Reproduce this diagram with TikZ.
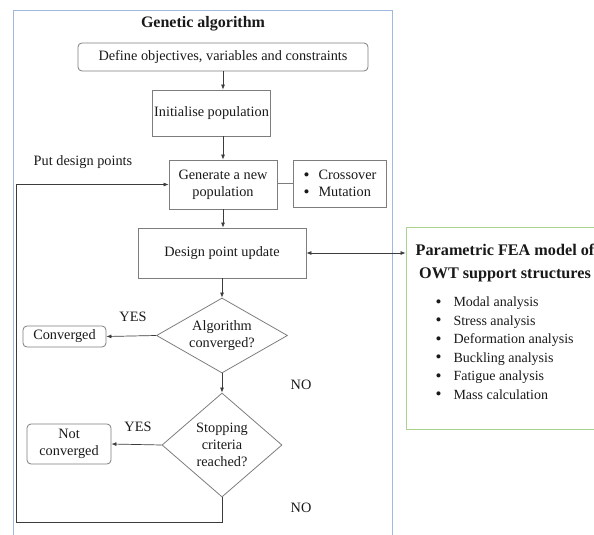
\documentclass[tikz,border=0pt]{standalone}
\usepackage{fontspec}
\setmainfont{Liberation Serif}
\usetikzlibrary{shapes.geometric,arrows.meta}

\definecolor{boxline}{RGB}{125,125,125}
\definecolor{arrline}{RGB}{60,60,60}
\definecolor{frameblue}{RGB}{160,185,225}
\definecolor{framegreen}{RGB}{170,210,145}
\definecolor{inktext}{RGB}{25,25,25}

\newcommand{\blt}[1]{\makebox[#1][l]{\raisebox{-0.1ex}{\fontsize{17}{0}\selectfont\textbullet}}}

\tikzset{
  plainbox/.style={draw=boxline, line width=0.8pt, text=inktext, align=center,
    font=\fontsize{14.3}{17}\selectfont, inner sep=2pt},
  roundbox/.style={plainbox, rounded corners=4pt},
  decision/.style={plainbox, diamond, inner sep=0pt},
  flow/.style={draw=arrline, line width=0.7pt, -{Latex[length=5pt,width=4pt]}},
  label/.style={text=inktext, font=\fontsize{14.3}{17}\selectfont},
}

\begin{document}
\begin{tikzpicture}[x=1pt,y=-1pt]
\useasboundingbox (0,0) rectangle (594,535);
\clip (0,0) rectangle (594,535);

% outer frames
\draw[frameblue, line width=0.8pt] (13,540) -- (13,10) -- (392,10) -- (392,540);
\node[draw=framegreen, line width=0.8pt, minimum width=200pt, minimum height=202pt,
  inner sep=0pt] (fea) at (506,328) {};

\node[label, font=\bfseries\fontsize{16}{19}\selectfont] (title) at (203,24) {Genetic algorithm};

% main flow
\node[roundbox, minimum width=290pt, minimum height=28pt] (define) at (223,57)
  {Define objectives, variables and constraints};
\node[plainbox, minimum width=113pt, minimum height=46pt] (init) at (211.5,113)
  {Initialise population};
\node[plainbox, minimum width=108pt, minimum height=49pt] (gen) at (223,184.5)
  {Generate a new\\population};
\node[plainbox, minimum width=93pt, minimum height=47pt, align=left] (ops) at (340,183.5)
  {\blt{15pt}Crossover\\\blt{15pt}Mutation};
\node[plainbox, minimum width=168pt, minimum height=50pt] (upd) at (222,253)
  {Design point update};
\node[decision, minimum width=131pt, minimum height=75pt, aspect=1.75] (conv) at (222,335.5)
  {Algorithm\\converged?};
\node[decision, minimum width=120pt, minimum height=104pt, aspect=1.15] (stop) at (222,445)
  {Stopping\\criteria\\reached?};
\node[roundbox, minimum width=83pt, minimum height=21pt] (done) at (64.5,336.5) {Converged};
\node[roundbox, minimum width=84pt, minimum height=40pt, font=\fontsize{14.3}{17}\selectfont]
  (notdone) at (69,444) {Not\\converged};

% FEA model
\node[label, font=\bfseries\fontsize{16.2}{23}\selectfont, align=center] (featitle) at (505,263.5)
  {Parametric FEA model of\\OWT support structures};
\node[label, font=\fontsize{14}{18.5}\selectfont, align=left, anchor=west] (fealist) at (432,348.5)
  {\blt{18pt}Modal analysis\\
   \blt{18pt}Stress analysis\\
   \blt{18pt}Deformation analysis\\
   \blt{18pt}Buckling analysis\\
   \blt{18pt}Fatigue analysis\\
   \blt{18pt}Mass calculation};

% labels
\node[label] (putlbl) at (83,162) {Put design points};
\node[label] (yes1) at (133,317) {YES};
\node[label] (yes2) at (138,427) {YES};
\node[label] (no1) at (301,385) {NO};
\node[label] (no2) at (301,508) {NO};

% connectors
\draw[flow] (define.south) -- (define.south |- init.north);
\draw[flow] (gen.north |- init.south) -- (gen.north);
\draw[draw=boxline, line width=0.8pt] (gen.east |- ops.west) -- (ops.west);
\draw[flow] (gen.south) -- (gen.south |- upd.north);
\draw[flow] (upd.south) -- (conv.north);
\draw[flow] (conv.south) -- (stop.north);
\draw[flow] (conv.west) -- (done.east);
\draw[flow] (stop.west) -- (notdone.east);
\draw[flow, {Latex[length=5pt,width=4pt]}-{Latex[length=5pt,width=4pt]}]
  (upd.east) -- (upd.east -| fea.west);

\coordinate (loopbot) at (16,522);
\coordinate (looptop) at (16,184.5);
\draw[flow] (stop.south) |- (loopbot) -- (looptop) -- (gen.west);
\end{tikzpicture}
\end{document}
